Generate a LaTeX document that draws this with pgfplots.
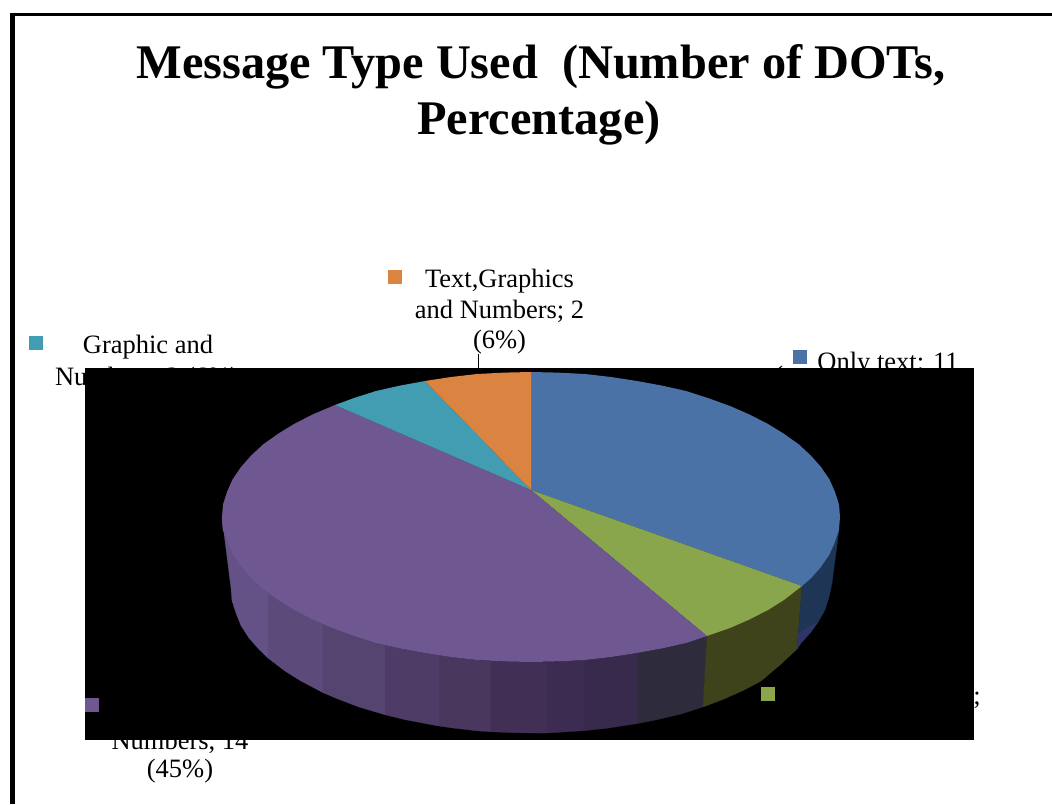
\documentclass[border=0pt]{standalone}
\usepackage{pgfplots}
\pgfplotsset{compat=1.18}
\usepackage{fontspec}
\setmainfont{Liberation Serif}
\definecolor{cblue}{HTML}{4A72A6}
\definecolor{cgreen}{HTML}{8AA64D}
\definecolor{cpurple}{HTML}{6F5892}
\definecolor{cteal}{HTML}{429DB3}
\definecolor{corange}{HTML}{DB8340}
\definecolor{s1}{HTML}{645186}
\definecolor{s2}{HTML}{5C4A7B}
\definecolor{s3}{HTML}{564470}
\definecolor{s4}{HTML}{4F3C66}
\definecolor{s5}{HTML}{4A375E}
\definecolor{s6}{HTML}{422F56}
\definecolor{s7}{HTML}{3D2C52}
\definecolor{s8}{HTML}{382A4C}
\definecolor{s9}{HTML}{2D2B3C}
\definecolor{sg}{HTML}{3F431B}
\definecolor{sb}{HTML}{1E3555}
\definecolor{sb2}{HTML}{2E3568}
\newcommand{\lab}{\fontsize{26.5}{30}\selectfont}
\begin{document}
\begin{tikzpicture}
\begin{axis}[hide axis,scale only axis,width=1052pt,height=804pt,
  xmin=0,xmax=1052,ymin=0,ymax=804,y dir=reverse,clip mode=global]
% page background: keeps the full page in the bounding box
\addplot[fill=white,draw=none] coordinates {(0,0) (1052,0) (1052,804) (0,804)} --cycle;
% frame
\addplot[black,line width=5pt] coordinates {(12.5,804) (12.5,14.5)};
\addplot[black,line width=3.5pt] coordinates {(10,14.5) (1052,14.5)};
% title
\node[anchor=base,font=\fontsize{48.3}{58}\selectfont\bfseries] at (axis cs:541,78) {Message Type Used\ \ (Number of DOTs,};
\node[anchor=base,font=\fontsize{48.3}{58}\selectfont\bfseries] at (axis cs:539,134) {Percentage)};
% labels
\node[anchor=base,font=\lab] at (axis cs:499.5,287) {Text,Graphics};
\node[anchor=base,font=\lab] at (axis cs:499.5,318) {and Numbers; 2};
\node[anchor=base,font=\lab] at (axis cs:499.5,348) {(6\%)};
\node[anchor=base,font=\lab] at (axis cs:148,353) {Graphic and};
\node[anchor=base,font=\lab] at (axis cs:147,385) {Numbers; 2 (6\%)};
\node[anchor=base,font=\lab] at (axis cs:888,370) {Only text: 11};
\node[anchor=base,font=\lab] at (axis cs:180,749) {Numbers, 14};
\node[anchor=base,font=\lab] at (axis cs:180,777) {(45\%)};
\node[anchor=base,font=\lab] at (axis cs:977,704) {;};
% leaders
\addplot[black,line width=1pt] coordinates {(478,354) (478,370)};
\addplot[black,line width=1pt] coordinates {(778,369) (782,366)};
% legend keys outside the black area
\addplot[fill=corange,draw=none] coordinates {(388,270) (402,270) (402,284) (388,284)} --cycle;
\addplot[fill=cteal,draw=none] coordinates {(29,336) (43,336) (43,350) (29,350)} --cycle;
\addplot[fill=cblue,draw=none] coordinates {(793,350) (807,350) (807,364) (793,364)} --cycle;
% black plot area
\addplot[fill=black,draw=none] coordinates {(85,368) (974,368) (974,740) (85,740)} --cycle;
% side strips
\addplot[fill=s1,draw=s1,line width=.3pt] coordinates {(222,517) (223,529.6) (227,542) (232.5,554.5) (241,567) (251,578.3) (263,589.5) (268,593) (268,658) (259,649.3) (249,638) (241,625.5) (236,613) (232,600.6) (231,588)} --cycle;
\addplot[fill=s2,draw=s2,line width=.3pt] coordinates {(268,593) (278,600) (294,610) (312.5,619.5) (323,624) (323,692.6) (301,681) (285,671) (268,658)} --cycle;
\addplot[fill=s3,draw=s3,line width=.3pt] coordinates {(323,624) (332,628) (354,636) (376,643) (385,645) (385,714.7) (359,707) (338,699) (323,692.6)} --cycle;
\addplot[fill=s4,draw=s4,line width=.3pt] coordinates {(385,645) (400,648.4) (425,653) (439,655) (439,726) (428,724) (404,719.4) (385,714.7)} --cycle;
\addplot[fill=s5,draw=s5,line width=.3pt] coordinates {(439,655) (451,657) (477,660) (491,661) (491,731.7) (479,731) (453,728) (439,726)} --cycle;
\addplot[fill=s6,draw=s6,line width=.3pt] coordinates {(491,661) (504,661.4) (531,662) (547,662) (547,733) (531,733) (505,732.4) (491,731.7)} --cycle;
\addplot[fill=s7,draw=s7,line width=.3pt] coordinates {(547,662) (558,661.4) (585,660) (585,730.6) (557,732.4) (547,733)} --cycle;
\addplot[fill=s8,draw=s8,line width=.3pt] coordinates {(585,660) (611,657) (638,653) (638,723.4) (609,728) (585,730.6)} --cycle;
\addplot[fill=s9,draw=s9,line width=.3pt] coordinates {(638,653) (662,648.4) (686,643) (707,636) (703,707) (681,714) (658,719.4) (638,723.4)} --cycle;
\addplot[fill=sg,draw=sg,line width=.3pt] coordinates {(707,636) (730,628) (749.5,619.5) (768,610) (784,600) (802,586) (797,649) (781,664) (761,681) (743,690.5) (724,699) (703,707)} --cycle;
\addplot[fill=sb,draw=sb,line width=.3pt] coordinates {(802,586) (811,578.3) (821,567) (829.5,554.5) (835,542) (839,529.6) (832,583) (829,597) (825,610) (818,622) (811,632) (801,643) (797,649)} --cycle;
\addplot[fill=sb2,draw=none] coordinates {(797,649) (801,643) (811,632) (818,622) (806,628) (798,634)} --cycle;
% top surface
\addplot[fill=cblue,draw=none] coordinates {(531,490) (531,372) (558,372.6) (585,374) (611,377) (637,381) (662,385.6) (686,391) (708,398) (730,406) (749.5,414.5) (768,424) (784,433.8) (799,444.5) (811,455.7) (821,467) (829.5,479.5) (835,492) (839,504.4) (840,517) (839,529.6) (835,542) (829.5,554.5) (821,567) (811,578.3) (802,586)} --cycle;
\addplot[fill=cgreen,draw=none] coordinates {(531,490) (802,586) (784,600) (768,610) (749.5,619.5) (730,628) (707,636)} --cycle;
\addplot[fill=cpurple,draw=none] coordinates {(531,490) (707,636) (686,643) (662,648.4) (637,653) (611,657) (585,660) (558,661.4) (531,662) (504,661.4) (477,660) (451,657) (425,653) (400,648.4) (376,643) (354,636) (332,628) (312.5,619.5) (294,610) (278,600) (263,589.5) (251,578.3) (241,567) (232.5,554.5) (227,542) (223,529.6) (222,517) (223,504.4) (227,492) (232.5,479.5) (241,467) (251,455.7) (263,444.5) (278,433.8) (294,424) (312.5,414.5) (335,405)} --cycle;
\addplot[fill=cteal,draw=none] coordinates {(531,490) (335,405) (354,398) (376,391) (400,385.6) (425,381)} --cycle;
\addplot[fill=corange,draw=none] coordinates {(531,490) (425,381) (451,377) (477,374) (504,372.6) (531,372)} --cycle;
% legend keys over the black area
\addplot[fill=cgreen,draw=none] coordinates {(761,687) (775,687) (775,701) (761,701)} --cycle;
\addplot[fill=cpurple,draw=none] coordinates {(85,698) (99,698) (99,712) (85,712)} --cycle;
\end{axis}
\end{tikzpicture}
\end{document}
